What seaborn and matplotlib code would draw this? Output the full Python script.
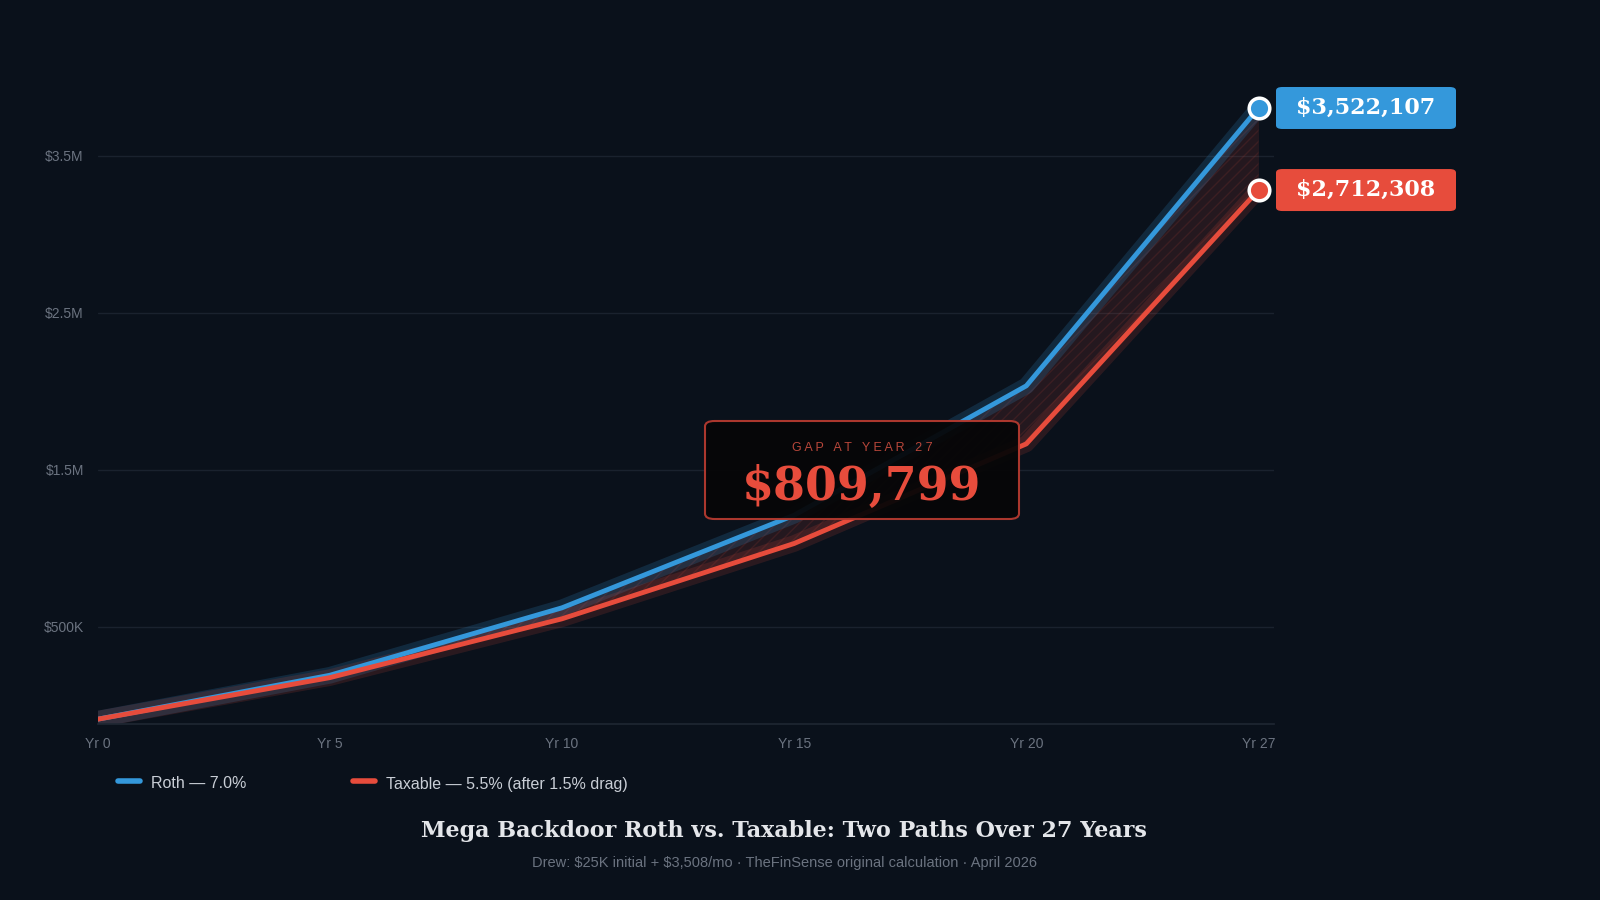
import numpy as np
import pandas as pd
import matplotlib
matplotlib.use("Agg")
import matplotlib.pyplot as plt
from matplotlib.patches import FancyBboxPatch
import seaborn as sns

# ── Data ───────────────────────────────────────────────────────────────────────
years = ["Yr 0", "Yr 5", "Yr 10", "Yr 15", "Yr 20", "Yr 27"]
roth = [-0.09, 0.19, 0.62, 1.21, 2.035, 3.806]      # $M, as drawn
taxable = [-0.09, 0.175, 0.55, 1.03, 1.665, 3.283]  # $M, as drawn
end_labels = ["$3,522,107", "$2,712,308"]
gap_label = "$809,799"
tick_vals = [0.5, 1.5, 2.5, 3.5]
tick_text = ["$500K", "$1.5M", "$2.5M", "$3.5M"]

BG = "#0a111b"
BLUE = "#3498db"
RED = "#e74c3c"

sns.set_theme(style="dark")
plt.rcParams["font.family"] = ["Liberation Sans", "DejaVu Sans"]
plt.rcParams["text.parse_math"] = False

fig = plt.figure(figsize=(16, 9), dpi=100, facecolor=BG)
ax = fig.add_axes([0.061, 0.196, 0.735, 0.737])
ax.set_facecolor(BG)

x = np.arange(len(years))
df = pd.DataFrame({"x": np.concatenate([x, x]),
                   "v": roth + taxable,
                   "s": ["Roth"] * len(x) + ["Taxable"] * len(x)})

# band between the paths
ax.fill_between(x, taxable, roth, color=RED, alpha=0.12, lw=0)
ax.fill_between(x, taxable, roth, facecolor="none", edgecolor=RED, alpha=0.12,
                hatch="///", lw=0)

# glow
ax.plot(x, roth, color=BLUE, lw=12, alpha=0.18, solid_capstyle="round")
ax.plot(x, taxable, color=RED, lw=12, alpha=0.15, solid_capstyle="round")
sns.lineplot(data=df, x="x", y="v", hue="s", palette=[BLUE, RED], lw=3.5,
             ax=ax, legend=False)
ax.scatter([x[-1]], [roth[-1]], s=220, color=BLUE, edgecolor="white", lw=2.5, zorder=5)
ax.scatter([x[-1]], [taxable[-1]], s=220, color=RED, edgecolor="white", lw=2.5, zorder=5)

ax.set_xlim(0, 5.065)
ax.set_ylim(-0.118, 4.11)
ax.set_xticks(x)
ax.set_xticklabels(years)
ax.set_yticks(tick_vals)
ax.set_yticklabels(tick_text)
ax.tick_params(colors="#6b7380", labelsize=10, length=0, pad=10)
ax.set_xlabel("")
ax.set_ylabel("")
ax.grid(True, axis="y", color="#1a222e", lw=1)
ax.grid(False, axis="x")
for s in ["top", "right", "left"]:
    ax.spines[s].set_visible(False)
ax.spines["bottom"].set_color("#1e2632")

# end labels
for val, lab, col in [(roth[-1], end_labels[0], BLUE), (taxable[-1], end_labels[1], RED)]:
    yf = ax.transData.transform((0, val))[1] / fig.bbox.height
    fig.patches.append(FancyBboxPatch((1276 / 1600, yf - 21 / 900), 180 / 1600, 42 / 900,
                                      boxstyle="round,pad=0,rounding_size=0.004",
                                      transform=fig.transFigure, fc=col, ec="none"))
    fig.text(1366 / 1600, yf, lab, ha="center", va="center", color="white",
             fontsize=16, fontweight="bold", family="DejaVu Serif")

# gap box
fig.patches.append(FancyBboxPatch((705 / 1600, 1 - 519 / 900), 314 / 1600, 98 / 900,
                                  boxstyle="round,pad=0,rounding_size=0.006",
                                  transform=fig.transFigure, fc="#060607", ec="#b53a30",
                                  lw=1.5, alpha=0.95, zorder=10))
fig.text(862 / 1600, 1 - 448 / 900, "G A P   A T   Y E A R   2 7", ha="center",
         va="center", color="#b8463a", fontsize=9, zorder=11)
fig.text(862 / 1600, 1 - 487 / 900, gap_label, ha="center", va="center",
         color=RED, fontsize=33, fontweight="bold", family="DejaVu Serif", zorder=11)

# legend
for lx, tx, col, lab in [(118, 151, BLUE, "Roth — 7.0%"),
                         (353, 386, RED, "Taxable — 5.5% (after 1.5% drag)")]:
    fig.add_artist(plt.Line2D([lx / 1600, (lx + 22) / 1600], [1 - 781 / 900] * 2,
                              color=col, lw=4, solid_capstyle="round"))
    fig.text(tx / 1600, 1 - 784 / 900, lab, ha="left", va="center",
             color="#c9ced6", fontsize=11.5)

fig.text(784 / 1600, 1 - 831 / 900,
         "Mega Backdoor Roth vs. Taxable: Two Paths Over 27 Years",
         ha="center", va="center", color="#e4e6ea", fontsize=16,
         fontweight="bold", family="DejaVu Serif")
fig.text(784 / 1600, 1 - 863 / 900,
         "Drew: $25K initial + $3,508/mo · TheFinSense original calculation · April 2026",
         ha="center", va="center", color="#6b7380", fontsize=10.5)

fig.savefig("out.png", dpi=100, facecolor=BG)
